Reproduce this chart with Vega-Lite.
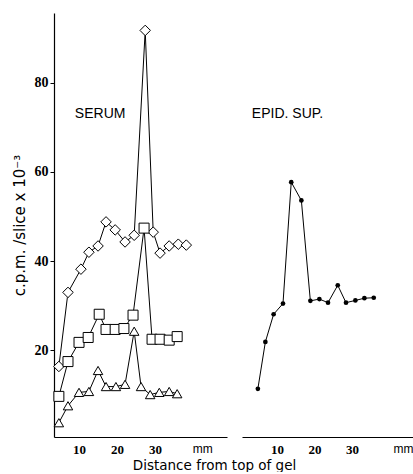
{
  "$schema": "https://vega.github.io/schema/vega-lite/v6.json",
  "padding": {"left": 12, "top": 13, "right": 0, "bottom": 0},
  "background": "white",
  "bounds": "flush",
  "spacing": 15,
  "config": {
    "view": {"stroke": null},
    "axis": {"domainColor": "black", "tickColor": "black", "labelColor": "black", "titleColor": "black", "grid": false, "domainWidth": 1.2}
  },
  "datasets": {
    "serum": [
      {"series": "diamond", "mm": 4.7, "cpm": 16.4},
      {"series": "diamond", "mm": 7.1, "cpm": 33.0},
      {"series": "diamond", "mm": 10.5, "cpm": 38.2},
      {"series": "diamond", "mm": 12.6, "cpm": 42.0},
      {"series": "diamond", "mm": 15.0, "cpm": 43.4},
      {"series": "diamond", "mm": 17.1, "cpm": 48.8},
      {"series": "diamond", "mm": 19.5, "cpm": 47.0},
      {"series": "diamond", "mm": 22.1, "cpm": 44.3},
      {"series": "diamond", "mm": 24.5, "cpm": 45.8},
      {"series": "diamond", "mm": 27.4, "cpm": 91.7},
      {"series": "diamond", "mm": 29.5, "cpm": 46.5},
      {"series": "diamond", "mm": 31.3, "cpm": 41.8},
      {"series": "diamond", "mm": 33.7, "cpm": 43.4},
      {"series": "diamond", "mm": 36.1, "cpm": 43.8},
      {"series": "diamond", "mm": 38.2, "cpm": 43.6},
      {"series": "square", "mm": 4.7, "cpm": 9.7},
      {"series": "square", "mm": 7.1, "cpm": 17.5},
      {"series": "square", "mm": 10.0, "cpm": 21.8},
      {"series": "square", "mm": 12.4, "cpm": 22.9},
      {"series": "square", "mm": 15.3, "cpm": 28.1},
      {"series": "square", "mm": 17.1, "cpm": 24.7},
      {"series": "square", "mm": 19.5, "cpm": 24.7},
      {"series": "square", "mm": 21.8, "cpm": 24.9},
      {"series": "square", "mm": 24.2, "cpm": 27.9},
      {"series": "square", "mm": 27.1, "cpm": 47.4},
      {"series": "square", "mm": 29.2, "cpm": 22.5},
      {"series": "square", "mm": 31.3, "cpm": 22.5},
      {"series": "square", "mm": 33.7, "cpm": 22.3},
      {"series": "square", "mm": 35.8, "cpm": 23.1},
      {"series": "triangle", "mm": 4.7, "cpm": 3.8},
      {"series": "triangle", "mm": 7.1, "cpm": 7.6},
      {"series": "triangle", "mm": 10.0, "cpm": 10.6},
      {"series": "triangle", "mm": 12.6, "cpm": 10.8},
      {"series": "triangle", "mm": 15.0, "cpm": 15.5},
      {"series": "triangle", "mm": 17.1, "cpm": 11.9},
      {"series": "triangle", "mm": 19.7, "cpm": 11.9},
      {"series": "triangle", "mm": 22.1, "cpm": 12.4},
      {"series": "triangle", "mm": 24.5, "cpm": 24.3},
      {"series": "triangle", "mm": 26.3, "cpm": 11.9},
      {"series": "triangle", "mm": 28.7, "cpm": 10.1},
      {"series": "triangle", "mm": 31.1, "cpm": 10.6},
      {"series": "triangle", "mm": 33.7, "cpm": 10.8},
      {"series": "triangle", "mm": 35.8, "cpm": 10.3}
    ],
    "epid": [
      {"mm": 4.9, "cpm": 11.4},
      {"mm": 6.9, "cpm": 21.9},
      {"mm": 9.1, "cpm": 28.1},
      {"mm": 11.6, "cpm": 30.5},
      {"mm": 13.8, "cpm": 57.7},
      {"mm": 16.5, "cpm": 53.6},
      {"mm": 18.9, "cpm": 31.1},
      {"mm": 21.3, "cpm": 31.5},
      {"mm": 23.6, "cpm": 30.7},
      {"mm": 26.2, "cpm": 34.6},
      {"mm": 28.4, "cpm": 30.7},
      {"mm": 30.9, "cpm": 31.2},
      {"mm": 33.3, "cpm": 31.7},
      {"mm": 35.8, "cpm": 31.8}
    ]
  },
  "resolve": {"scale": {"x": "independent", "y": "independent"}},
  "hconcat": [
    {
      "width": 173,
      "height": 424,
      "layer": [
        {
          "data": {"name": "serum"},
          "mark": {"type": "line", "color": "black", "strokeWidth": 1},
          "encoding": {
            "x": {"field": "mm", "type": "quantitative", "scale": {"domain": [3.42, 48.9], "nice": false, "zero": false},
              "axis": {"values": [10, 20, 30, 42.4], "labelExpr": "datum.value > 40 ? 'mm' : datum.label", "ticks": false, "labelOverlap": false, "labelFlush": false,
                "labelFont": {"condition": {"test": "datum.value > 40", "value": "Liberation Sans"}, "value": "Liberation Sans Narrow"},
                "labelFontWeight": {"condition": {"test": "datum.value > 40", "value": "normal"}, "value": "bold"},
                "labelFontSize": {"condition": {"test": "datum.value > 40", "value": 12}, "value": 13},
                "labelPadding": 6,
                "title": "Distance from top of gel", "titleX": 160, "titleY": 28, "titleBaseline": "middle", "titleFont": "DejaVu Sans", "titleFontSize": 13.5, "titleFontWeight": "normal"}},
            "y": {"field": "cpm", "type": "quantitative", "scale": {"domain": [0.6, 95.6], "nice": false, "zero": false},
              "axis": {"values": [20, 40, 60, 80], "tickSize": 4, "labelPadding": 2, "labelFont": "Liberation Sans Narrow", "labelFontWeight": "bold", "labelFontSize": 14,
                "title": "c.p.m. /slice x 10⁻³", "titleFont": "DejaVu Sans", "titleFontSize": 15, "titleFontWeight": "normal", "titlePadding": 7}},
            "detail": {"field": "series"}
          }
        },
        {
          "data": {"name": "serum"},
          "mark": {"type": "point", "filled": true, "fill": "white", "stroke": "black", "strokeWidth": 1, "opacity": 1},
          "encoding": {
            "x": {"field": "mm", "type": "quantitative"},
            "y": {"field": "cpm", "type": "quantitative"},
            "shape": {"field": "series", "type": "nominal", "scale": {"domain": ["diamond", "square", "triangle"], "range": ["diamond", "square", "triangle-up"]}, "legend": null},
            "size": {"field": "series", "type": "ordinal", "scale": {"domain": ["diamond", "square", "triangle"], "range": [110, 90, 60]}, "legend": null}
          }
        },
        {
          "data": {"values": [{"label": "SERUM"}]},
          "mark": {"type": "text", "align": "left", "baseline": "middle", "font": "Liberation Sans", "fontSize": 14, "color": "black"},
          "encoding": {
            "x": {"datum": 8.9, "type": "quantitative"},
            "y": {"datum": 73, "type": "quantitative"},
            "text": {"field": "label"}
          }
        }
      ]
    },
    {
      "width": 173,
      "height": 424,
      "layer": [
        {
          "data": {"name": "epid"},
          "mark": {"type": "line", "color": "black", "strokeWidth": 1},
          "encoding": {
            "x": {"field": "mm", "type": "quantitative", "scale": {"domain": [0.67, 46.8], "nice": false, "zero": false},
              "axis": {"values": [10, 20, 30, 43.6], "labelExpr": "datum.value > 40 ? 'mm' : datum.label", "ticks": false, "labelOverlap": false, "labelFlush": false,
                "labelFont": {"condition": {"test": "datum.value > 40", "value": "Liberation Sans"}, "value": "Liberation Sans Narrow"},
                "labelFontWeight": {"condition": {"test": "datum.value > 40", "value": "normal"}, "value": "bold"},
                "labelFontSize": {"condition": {"test": "datum.value > 40", "value": 12}, "value": 13},
                "labelPadding": 6, "title": null}},
            "y": {"field": "cpm", "type": "quantitative", "scale": {"domain": [0.6, 95.6], "nice": false, "zero": false}, "axis": null}
          }
        },
        {
          "data": {"name": "epid"},
          "mark": {"type": "point", "filled": true, "color": "black", "size": 22, "opacity": 1},
          "encoding": {
            "x": {"field": "mm", "type": "quantitative"},
            "y": {"field": "cpm", "type": "quantitative"}
          }
        },
        {
          "data": {"values": [{"label": "EPID. SUP."}]},
          "mark": {"type": "text", "align": "left", "baseline": "middle", "font": "Liberation Sans", "fontSize": 14, "color": "black"},
          "encoding": {
            "x": {"datum": 3.3, "type": "quantitative"},
            "y": {"datum": 73, "type": "quantitative"},
            "text": {"field": "label"}
          }
        }
      ]
    }
  ]
}
